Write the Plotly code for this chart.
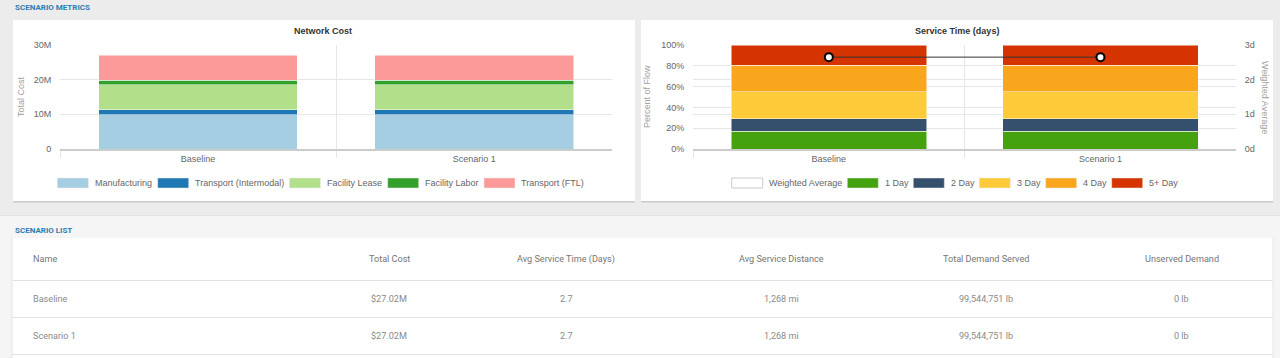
import plotly.graph_objects as go

# ---------------- data ----------------
categories = ["Baseline", "Scenario 1"]

cost_names = ["Manufacturing", "Transport (Intermodal)", "Facility Lease", "Facility Labor", "Transport (FTL)"]
manufacturing = [9.9e6, 9.9e6]
transport_intermodal = [1.4e6, 1.4e6]
facility_lease = [7.2e6, 7.2e6]
facility_labor = [1.3e6, 1.3e6]
transport_ftl = [7.22e6, 7.22e6]
cost_ticks = [0, 10e6, 20e6, 30e6]
cost_tick_text = ["0", "10M", "20M", "30M"]

service_names = ["1 Day", "2 Day", "3 Day", "4 Day", "5+ Day"]
day1 = [0.169, 0.169]
day2 = [0.121, 0.121]
day3 = [0.262, 0.262]
day4 = [0.253, 0.253]
day5p = [0.195, 0.195]
weighted_average = [2.65, 2.65]
day_ticks = [0, 1, 2, 3]
day_tick_text = ["0d", "1d", "2d", "3d"]

table_columns = ["Name", "Total Cost", "Avg Service Time (Days)", "Avg Service Distance",
                 "Total Demand Served", "Unserved Demand"]
table_names = ["Baseline", "Scenario 1"]
table_total_cost = ["$27.02M", "$27.02M"]
table_avg_time = ["2.7", "2.7"]
table_avg_dist = ["1,268 mi", "1,268 mi"]
table_demand = ["99,544,751 lb", "99,544,751 lb"]
table_unserved = ["0 lb", "0 lb"]

# ---------------- style ----------------
W, H = 1280, 358
def px(x): return x / W
def py(y): return 1 - y / H

CHART_FONT = "Liberation Sans, Arial, sans-serif"
TABLE_FONT = "Roboto, sans-serif"
GRID = "#e6e6e6"
cost_colors = ["#a6cee3", "#1f78b4", "#b2df8a", "#33a02c", "#fb9a99"]
service_colors = ["#44a20e", "#35506d", "#fdcb3a", "#f9a61c", "#d53400"]

fig = go.Figure()

cost_values = [manufacturing, transport_intermodal, facility_lease, facility_labor, transport_ftl]
for name, vals, col in zip(cost_names, cost_values, cost_colors):
    fig.add_trace(go.Bar(x=categories, y=vals, name=name, marker=dict(color=col, line=dict(color="white", width=0.5)),
                         xaxis="x", yaxis="y", showlegend=False))

service_values = [day1, day2, day3, day4, day5p]
for name, vals, col in zip(service_names, service_values, service_colors):
    fig.add_trace(go.Bar(x=categories, y=vals, name=name, marker=dict(color=col, line=dict(color="white", width=0.5)),
                         xaxis="x2", yaxis="y2", showlegend=False))

fig.add_trace(go.Scatter(x=categories, y=weighted_average, name="Weighted Average", mode="lines+markers",
                         line=dict(color="#333333", width=1),
                         marker=dict(color="white", size=8, line=dict(color="black", width=2)),
                         xaxis="x2", yaxis="y3", showlegend=False))

tickfont = dict(family=CHART_FONT, size=9, color="#666666")
xcommon = dict(type="category", tickson="boundaries", showgrid=True, gridcolor=GRID, gridwidth=1,
               ticks="outside", ticklen=7, tickcolor=GRID, showline=True, linecolor="#cccccc", linewidth=1.5,
               tickfont=tickfont, range=[-0.5, 1.499], fixedrange=True, automargin=False)
ycommon = dict(showgrid=True, gridcolor=GRID, zeroline=False, showline=False, ticks="outside",
               ticklen=6, tickcolor="rgba(0,0,0,0)", tickfont=tickfont, fixedrange=True, automargin=False)

fig.update_layout(
    template="none",
    width=W, height=H, margin=dict(l=0, r=0, t=0, b=0, pad=0), autosize=False,
    paper_bgcolor="#ececec", plot_bgcolor="white",
    barmode="stack", bargap=0.28, showlegend=False,
    xaxis=dict(domain=[px(60), px(612)], anchor="y", **xcommon),
    yaxis=dict(domain=[py(149), py(45)], anchor="x", range=[0, 30e6], tickvals=cost_ticks,
               ticktext=cost_tick_text, **ycommon),
    xaxis2=dict(domain=[px(693), px(1236)], anchor="y2", **xcommon),
    yaxis2=dict(domain=[py(149), py(45)], anchor="x2", range=[0, 1], dtick=0.2, tickformat=".0%", **ycommon),
    yaxis3=dict(overlaying="y2", side="right", anchor="x2", range=[0, 3], tickvals=day_ticks,
                ticktext=day_tick_text, **ycommon),
)

shapes = []
annotations = []

def rect(x0, y0, x1, y1, fill, line=None, lw=0):
    shapes.append(dict(type="rect", xref="paper", yref="paper", x0=px(x0), x1=px(x1), y0=py(y1), y1=py(y0),
                       fillcolor=fill, line=dict(color=line or fill, width=lw), layer="below"))

def hline(x0, x1, y, color, w=1):
    shapes.append(dict(type="line", xref="paper", yref="paper", x0=px(x0), x1=px(x1), y0=py(y), y1=py(y),
                       line=dict(color=color, width=w), layer="below"))

def text(x, y, s, size=9, color="#666666", family=CHART_FONT, xanchor="center", angle=0):
    annotations.append(dict(x=px(x), y=py(y), xref="paper", yref="paper", text=s, showarrow=False,
                            xanchor=xanchor, yanchor="middle", textangle=angle,
                            font=dict(family=family, size=size, color=color)))

# lower band
rect(0, 215, 1280, 358, "#f5f5f5")
hline(0, 1280, 215.5, "#e2e2e2")
# cards with shadow
rect(13, 21, 635, 202.5, "#c9c9c9")
rect(641, 21, 1273, 202.5, "#c9c9c9")
rect(13, 20, 635, 201, "white")
rect(641, 20, 1273, 201, "white")
# table card
rect(11.5, 238, 1273.5, 358, "#e4e4e4")
rect(12.5, 238, 1272.5, 358, "white")
for yy in [280.5, 317.5, 354.5]:
    hline(12.5, 1272.5, yy, "#e2e2e2", 1.2)

# section headers
text(13, 8, "<b>SCENARIO METRICS</b>", size=8, color="#2b7cb3", family=TABLE_FONT, xanchor="left")
text(13, 230, "<b>SCENARIO LIST</b>", size=8, color="#2b7cb3", family=TABLE_FONT, xanchor="left")

# chart titles and axis titles
text(323, 31, "<b>Network Cost</b>", size=9, color="#333333")
text(957, 31, "<b>Service Time (days)</b>", size=9, color="#333333")
text(21, 97, "Total Cost", size=9, color="#a0a0a0", angle=-90)
text(647, 97, "Percent of Flow", size=9, color="#a0a0a0", angle=-90)
text(1265, 97, "Weighted Average", size=9, color="#a0a0a0", angle=90)

# custom legends
leg_y0, leg_y1 = 178, 188
cost_leg_x = [57.3, 157.7, 289.4, 387.7, 484]
for x0, name, col in zip(cost_leg_x, cost_names, cost_colors):
    rect(x0, leg_y0, x0 + 31, leg_y1, col, "#e8e8e8", 0.5)
    text(x0 + 35.3, 183, name, xanchor="left")
serv_leg_x = [731.7, 847.3, 913.3, 979.3, 1045.7, 1111.7]
serv_leg_names = ["Weighted Average"] + service_names
serv_leg_cols = ["white"] + service_colors
for x0, name, col in zip(serv_leg_x, serv_leg_names, serv_leg_cols):
    rect(x0, leg_y0, x0 + 31, leg_y1, col, "#cccccc" if col == "white" else "#e8e8e8", 1 if col == "white" else 0.5)
    text(x0 + 35.3, 183, name, xanchor="left")

# table
col_x = [31, 389, 566, 781.5, 986, 1181.5]
col_anchor = ["left", "center", "center", "center", "center", "center"]
for cx, anc, head in zip(col_x, col_anchor, table_columns):
    text(cx, 259, head, size=9.1, color="#757575", family=TABLE_FONT, xanchor=anc)
rows = list(zip(table_names, table_total_cost, table_avg_time, table_avg_dist, table_demand, table_unserved))
for ry, row in zip([298.5, 336], rows):
    for cx, anc, val in zip(col_x, col_anchor, row):
        text(cx, ry, val, size=9.1, color="#8a8a8a", family=TABLE_FONT, xanchor=anc)

fig.update_layout(shapes=shapes, annotations=annotations)
reset_js = ("var s=document.createElement('style');"
            "s.textContent='html,body{margin:0;padding:0;overflow:hidden;}';"
            "document.head.appendChild(s);")
fig.write_html("out.html", config={"displayModeBar": False}, post_script=reset_js)
